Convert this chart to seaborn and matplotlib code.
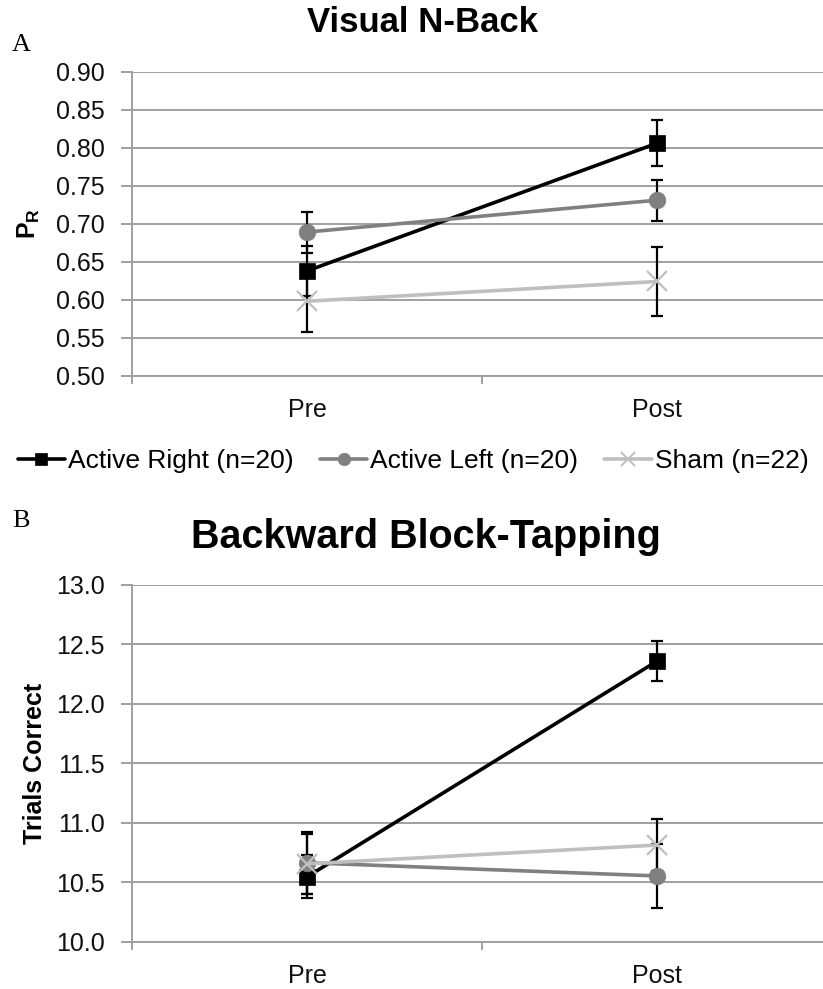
import matplotlib
matplotlib.use("Agg")
import matplotlib.pyplot as plt
from matplotlib.lines import Line2D
import numpy as np
import pandas as pd
import seaborn as sns

# ---------------- data ----------------
sessions = ["Pre", "Post"]
groups = ["Active Right (n=20)", "Active Left (n=20)", "Sham (n=22)"]

nback_right = [0.638, 0.806]
nback_left = [0.689, 0.731]
nback_sham = [0.598, 0.624]
nback_right_err = [0.033, 0.030]
nback_left_err = [0.027, 0.027]
nback_sham_err = [0.040, 0.046]

block_right = [10.547, 12.361]
block_left = [10.664, 10.553]
block_sham = [10.655, 10.813]
block_right_err = [0.18, 0.17]
block_left_err = [0.26, 0.267]
block_sham_err = [0.25, 0.22]

nback_ticks = [0.50, 0.55, 0.60, 0.65, 0.70, 0.75, 0.80, 0.85, 0.90]
block_ticks = [10.0, 10.5, 11.0, 11.5, 12.0, 12.5, 13.0]

# ---------------- style ----------------
sns.set_theme(style="white")
plt.rcParams["font.family"] = ["Liberation Sans", "DejaVu Sans"]
plt.rcParams["mathtext.fontset"] = "custom"
plt.rcParams["mathtext.rm"] = "Liberation Sans"
plt.rcParams["mathtext.bf"] = "Liberation Sans:bold"
for k in ["text.color", "axes.labelcolor", "xtick.color", "ytick.color"]:
    plt.rcParams[k] = "black"

colors = ["#000000", "#808080", "#bfbfbf"]
markers = ["s", "o", "x"]
msizes = [12, 12, 14]
grid_col = "#a0a0a0"

W, H = 823, 989
fig = plt.figure(figsize=(W / 100, H / 100), dpi=100)

def px_axes(left, top, right, bottom):
    return fig.add_axes([left / W, (H - bottom) / H, (right - left) / W, (bottom - top) / H])

axA = px_axes(132.3, 71.7, 832.3, 375.7)
axB = px_axes(132.3, 585.0, 832.3, 941.7)

def draw_panel(ax, series, errs, ticks, fmt):
    x = np.arange(len(sessions))
    for i, (vals, err) in enumerate(zip(series, errs)):
        ax.errorbar(x, vals, yerr=err, fmt="none", ecolor="black",
                    elinewidth=1.6, capsize=4.5, capthick=1.6, zorder=2)
    for i, vals in enumerate(series):
        df = pd.DataFrame({"session": x, "value": vals})
        sns.lineplot(data=df, x="session", y="value", ax=ax, color=colors[i],
                     marker=markers[i], markersize=msizes[i],
                     markeredgecolor=colors[i], markerfacecolor=colors[i],
                     markeredgewidth=1.6 if markers[i] == "x" else 0.5,
                     linewidth=2.6, zorder=3 + i, legend=False)
    ax.set_xlim(-0.5, 1.5)
    ax.set_ylim(ticks[0], ticks[-1])
    ax.set_yticks(ticks)
    ax.set_yticklabels([fmt.format(t) for t in ticks], fontsize=18, color="#111111")
    ax.yaxis.grid(True, color=grid_col, linewidth=1.4)
    ax.xaxis.grid(False)
    ax.set_xticks([-0.5, 0.5, 1.5])
    ax.set_xticklabels([])
    ax.set_xticks(x, minor=True)
    ax.set_xticklabels(sessions, minor=True, fontsize=18, color="#111111")
    ax.tick_params(axis="x", which="minor", length=0, pad=16)
    ax.tick_params(axis="x", which="major", length=6, width=1.4, color=grid_col, direction="out", bottom=True)
    ax.tick_params(axis="y", length=8, width=1.4, color=grid_col, direction="out", pad=12, left=True)
    for s in ["top", "right"]:
        ax.spines[s].set_visible(False)
    for s in ["left", "bottom"]:
        ax.spines[s].set_color(grid_col)
        ax.spines[s].set_linewidth(1.4)
    ax.set_xlabel("")
    ax.set_ylabel("")

draw_panel(axA, [nback_right, nback_left, nback_sham],
           [nback_right_err, nback_left_err, nback_sham_err], nback_ticks, "{:.2f}")
draw_panel(axB, [block_right, block_left, block_sham],
           [block_right_err, block_left_err, block_sham_err], block_ticks, "{:.1f}")

axA.set_ylabel(r"$\mathbf{P_R}$", fontsize=18)
axA.yaxis.set_label_coords(-0.129, 0.5)
axB.set_ylabel("Trials Correct", fontsize=18, fontweight="bold")
axB.yaxis.set_label_coords(-0.122, 0.5)

fig.text(423 / W, 1 - 22 / H, "Visual N-Back", ha="center", va="center",
         fontsize=25, fontweight="bold")
fig.text(426 / W, 1 - 537 / H, "Backward Block-Tapping", ha="center", va="center",
         fontsize=28.5, fontweight="bold")
fig.text(12 / W, 1 - 45 / H, "A", ha="left", va="center", fontsize=19,
         family=["Liberation Serif", "DejaVu Serif"])
fig.text(12 / W, 1 - 521 / H, "B", ha="left", va="center", fontsize=19,
         family=["Liberation Serif", "DejaVu Serif"])

handles = [Line2D([0], [0], color=colors[i], marker=markers[i], markersize=msizes[i] * 0.75,
                  markeredgecolor=colors[i], markerfacecolor=colors[i],
                  markeredgewidth=1.4 if markers[i] == "x" else 0.5, linewidth=2.6)
           for i in range(3)]
fig.legend(handles, groups, loc="center", bbox_to_anchor=(413 / W, 1 - 461 / H),
           ncol=3, frameon=False, fontsize=19, handlelength=1.8, handletextpad=0.1,
           columnspacing=1.0, borderaxespad=0)

fig.savefig("out.png", dpi=100)
